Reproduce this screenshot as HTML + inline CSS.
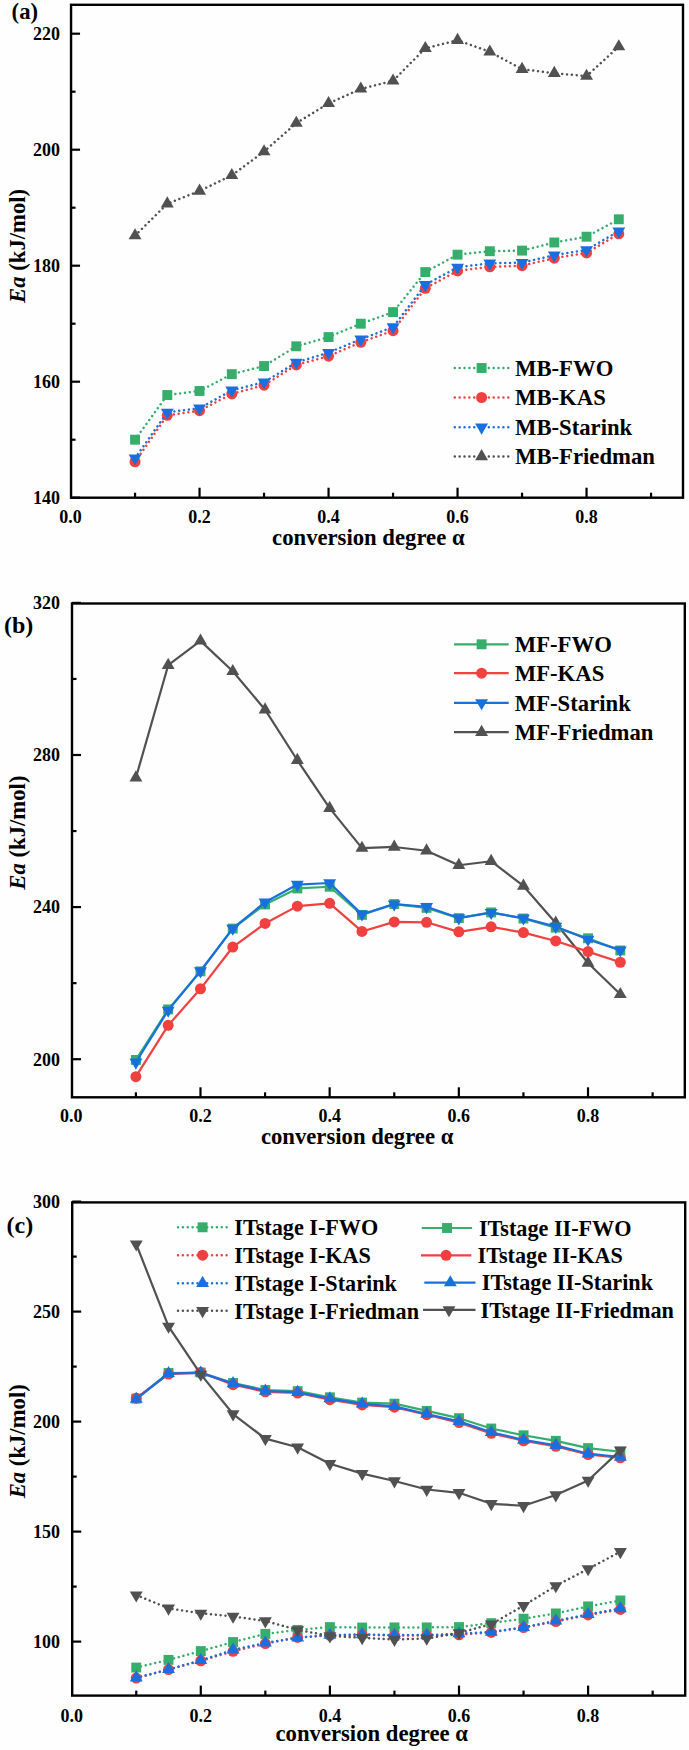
<!DOCTYPE html>
<html><head><meta charset="utf-8"><style>
html,body{margin:0;padding:0;background:#fefefe;}
svg{display:block;}
text{font-family:"Liberation Serif",serif;font-weight:bold;fill:#000;}
.t{font-size:18px;}
.b{font-size:22.7px;}
</style></head><body>
<svg width="689" height="1750" viewBox="0 0 689 1750">
<rect width="689" height="1750" fill="#fefefe"/>
<path d="M135.05,439.70 L167.30,395.04 L199.55,390.98 L231.80,374.16 L264.05,366.04 L296.30,346.32 L328.55,337.04 L360.80,323.70 L393.05,312.10 L425.30,272.08 L457.55,254.68 L489.80,251.20 L522.05,250.62 L554.30,242.50 L586.55,236.70 L618.80,219.30" fill="none" stroke="#37AD6B" stroke-width="2.5" stroke-dasharray="0.01 4.85" stroke-linecap="round"/>
<rect x="130.10" y="434.75" width="9.90" height="9.90" fill="#37AD6B"/>
<rect x="162.35" y="390.09" width="9.90" height="9.90" fill="#37AD6B"/>
<rect x="194.60" y="386.03" width="9.90" height="9.90" fill="#37AD6B"/>
<rect x="226.85" y="369.21" width="9.90" height="9.90" fill="#37AD6B"/>
<rect x="259.10" y="361.09" width="9.90" height="9.90" fill="#37AD6B"/>
<rect x="291.35" y="341.37" width="9.90" height="9.90" fill="#37AD6B"/>
<rect x="323.60" y="332.09" width="9.90" height="9.90" fill="#37AD6B"/>
<rect x="355.85" y="318.75" width="9.90" height="9.90" fill="#37AD6B"/>
<rect x="388.10" y="307.15" width="9.90" height="9.90" fill="#37AD6B"/>
<rect x="420.35" y="267.13" width="9.90" height="9.90" fill="#37AD6B"/>
<rect x="452.60" y="249.73" width="9.90" height="9.90" fill="#37AD6B"/>
<rect x="484.85" y="246.25" width="9.90" height="9.90" fill="#37AD6B"/>
<rect x="517.10" y="245.67" width="9.90" height="9.90" fill="#37AD6B"/>
<rect x="549.35" y="237.55" width="9.90" height="9.90" fill="#37AD6B"/>
<rect x="581.60" y="231.75" width="9.90" height="9.90" fill="#37AD6B"/>
<rect x="613.85" y="214.35" width="9.90" height="9.90" fill="#37AD6B"/>
<path d="M135.05,461.74 L167.30,415.34 L199.55,410.70 L231.80,393.88 L264.05,385.18 L296.30,364.88 L328.55,356.18 L360.80,342.26 L393.05,330.66 L425.30,288.32 L457.55,270.92 L489.80,266.86 L522.05,265.70 L554.30,258.16 L586.55,252.94 L618.80,233.80" fill="none" stroke="#F14040" stroke-width="2.5" stroke-dasharray="0.01 4.85" stroke-linecap="round"/>
<circle cx="135.05" cy="461.74" r="5.50" fill="#F14040"/>
<circle cx="167.30" cy="415.34" r="5.50" fill="#F14040"/>
<circle cx="199.55" cy="410.70" r="5.50" fill="#F14040"/>
<circle cx="231.80" cy="393.88" r="5.50" fill="#F14040"/>
<circle cx="264.05" cy="385.18" r="5.50" fill="#F14040"/>
<circle cx="296.30" cy="364.88" r="5.50" fill="#F14040"/>
<circle cx="328.55" cy="356.18" r="5.50" fill="#F14040"/>
<circle cx="360.80" cy="342.26" r="5.50" fill="#F14040"/>
<circle cx="393.05" cy="330.66" r="5.50" fill="#F14040"/>
<circle cx="425.30" cy="288.32" r="5.50" fill="#F14040"/>
<circle cx="457.55" cy="270.92" r="5.50" fill="#F14040"/>
<circle cx="489.80" cy="266.86" r="5.50" fill="#F14040"/>
<circle cx="522.05" cy="265.70" r="5.50" fill="#F14040"/>
<circle cx="554.30" cy="258.16" r="5.50" fill="#F14040"/>
<circle cx="586.55" cy="252.94" r="5.50" fill="#F14040"/>
<circle cx="618.80" cy="233.80" r="5.50" fill="#F14040"/>
<path d="M135.05,458.15 L167.30,412.33 L199.55,408.27 L231.80,390.29 L264.05,382.17 L296.30,362.45 L328.55,352.59 L360.80,339.25 L393.05,327.07 L425.30,284.73 L457.55,267.33 L489.80,263.27 L522.05,262.69 L554.30,255.15 L586.55,249.93 L618.80,231.08" fill="none" stroke="#1A6FDF" stroke-width="2.5" stroke-dasharray="0.01 4.85" stroke-linecap="round"/>
<polygon points="128.60,454.45 141.50,454.45 135.05,465.55" fill="#1A6FDF"/>
<polygon points="160.85,408.63 173.75,408.63 167.30,419.73" fill="#1A6FDF"/>
<polygon points="193.10,404.57 206.00,404.57 199.55,415.67" fill="#1A6FDF"/>
<polygon points="225.35,386.59 238.25,386.59 231.80,397.69" fill="#1A6FDF"/>
<polygon points="257.60,378.47 270.50,378.47 264.05,389.57" fill="#1A6FDF"/>
<polygon points="289.85,358.75 302.75,358.75 296.30,369.85" fill="#1A6FDF"/>
<polygon points="322.10,348.89 335.00,348.89 328.55,359.99" fill="#1A6FDF"/>
<polygon points="354.35,335.55 367.25,335.55 360.80,346.65" fill="#1A6FDF"/>
<polygon points="386.60,323.37 399.50,323.37 393.05,334.47" fill="#1A6FDF"/>
<polygon points="418.85,281.03 431.75,281.03 425.30,292.13" fill="#1A6FDF"/>
<polygon points="451.10,263.63 464.00,263.63 457.55,274.73" fill="#1A6FDF"/>
<polygon points="483.35,259.57 496.25,259.57 489.80,270.67" fill="#1A6FDF"/>
<polygon points="515.60,258.99 528.50,258.99 522.05,270.09" fill="#1A6FDF"/>
<polygon points="547.85,251.45 560.75,251.45 554.30,262.55" fill="#1A6FDF"/>
<polygon points="580.10,246.23 593.00,246.23 586.55,257.33" fill="#1A6FDF"/>
<polygon points="612.35,227.38 625.25,227.38 618.80,238.48" fill="#1A6FDF"/>
<path d="M135.05,235.65 L167.30,203.75 L199.55,190.99 L231.80,175.33 L264.05,151.55 L296.30,123.13 L328.55,103.41 L360.80,88.91 L393.05,80.79 L425.30,48.31 L457.55,40.19 L489.80,51.79 L522.05,69.19 L554.30,73.25 L586.55,76.15 L618.80,46.57" fill="none" stroke="#515151" stroke-width="2.5" stroke-dasharray="0.01 4.85" stroke-linecap="round"/>
<polygon points="128.60,239.35 141.50,239.35 135.05,228.25" fill="#515151"/>
<polygon points="160.85,207.45 173.75,207.45 167.30,196.35" fill="#515151"/>
<polygon points="193.10,194.69 206.00,194.69 199.55,183.59" fill="#515151"/>
<polygon points="225.35,179.03 238.25,179.03 231.80,167.93" fill="#515151"/>
<polygon points="257.60,155.25 270.50,155.25 264.05,144.15" fill="#515151"/>
<polygon points="289.85,126.83 302.75,126.83 296.30,115.73" fill="#515151"/>
<polygon points="322.10,107.11 335.00,107.11 328.55,96.01" fill="#515151"/>
<polygon points="354.35,92.61 367.25,92.61 360.80,81.51" fill="#515151"/>
<polygon points="386.60,84.49 399.50,84.49 393.05,73.39" fill="#515151"/>
<polygon points="418.85,52.01 431.75,52.01 425.30,40.91" fill="#515151"/>
<polygon points="451.10,43.89 464.00,43.89 457.55,32.79" fill="#515151"/>
<polygon points="483.35,55.49 496.25,55.49 489.80,44.39" fill="#515151"/>
<polygon points="515.60,72.89 528.50,72.89 522.05,61.79" fill="#515151"/>
<polygon points="547.85,76.95 560.75,76.95 554.30,65.85" fill="#515151"/>
<polygon points="580.10,79.85 593.00,79.85 586.55,68.75" fill="#515151"/>
<polygon points="612.35,50.27 625.25,50.27 618.80,39.17" fill="#515151"/>
<rect x="71.05" y="4.80" width="611.95" height="492.90" fill="none" stroke="#000" stroke-width="2.4"/>
<line x1="135.05" y1="497.70" x2="135.05" y2="492.70" stroke="#000" stroke-width="2.2"/>
<line x1="199.55" y1="497.70" x2="199.55" y2="487.70" stroke="#000" stroke-width="2.2"/>
<line x1="264.05" y1="497.70" x2="264.05" y2="492.70" stroke="#000" stroke-width="2.2"/>
<line x1="328.55" y1="497.70" x2="328.55" y2="487.70" stroke="#000" stroke-width="2.2"/>
<line x1="393.05" y1="497.70" x2="393.05" y2="492.70" stroke="#000" stroke-width="2.2"/>
<line x1="457.55" y1="497.70" x2="457.55" y2="487.70" stroke="#000" stroke-width="2.2"/>
<line x1="522.05" y1="497.70" x2="522.05" y2="492.70" stroke="#000" stroke-width="2.2"/>
<line x1="586.55" y1="497.70" x2="586.55" y2="487.70" stroke="#000" stroke-width="2.2"/>
<line x1="651.05" y1="497.70" x2="651.05" y2="492.70" stroke="#000" stroke-width="2.2"/>
<line x1="71.05" y1="497.70" x2="80.05" y2="497.70" stroke="#000" stroke-width="2.2"/>
<line x1="71.05" y1="381.70" x2="80.05" y2="381.70" stroke="#000" stroke-width="2.2"/>
<line x1="71.05" y1="265.70" x2="80.05" y2="265.70" stroke="#000" stroke-width="2.2"/>
<line x1="71.05" y1="149.70" x2="80.05" y2="149.70" stroke="#000" stroke-width="2.2"/>
<line x1="71.05" y1="33.70" x2="80.05" y2="33.70" stroke="#000" stroke-width="2.2"/>
<line x1="71.05" y1="439.70" x2="75.55" y2="439.70" stroke="#000" stroke-width="2.2"/>
<line x1="71.05" y1="323.70" x2="75.55" y2="323.70" stroke="#000" stroke-width="2.2"/>
<line x1="71.05" y1="207.70" x2="75.55" y2="207.70" stroke="#000" stroke-width="2.2"/>
<line x1="71.05" y1="91.70" x2="75.55" y2="91.70" stroke="#000" stroke-width="2.2"/>
<text x="70.55" y="523.20" text-anchor="middle" class="t">0.0</text>
<text x="199.55" y="523.20" text-anchor="middle" class="t">0.2</text>
<text x="328.55" y="523.20" text-anchor="middle" class="t">0.4</text>
<text x="457.55" y="523.20" text-anchor="middle" class="t">0.6</text>
<text x="586.55" y="523.20" text-anchor="middle" class="t">0.8</text>
<text x="60" y="504.00" text-anchor="end" class="t">140</text>
<text x="60" y="388.00" text-anchor="end" class="t">160</text>
<text x="60" y="272.00" text-anchor="end" class="t">180</text>
<text x="60" y="156.00" text-anchor="end" class="t">200</text>
<text x="60" y="40.00" text-anchor="end" class="t">220</text>
<path d="M135.89,777.76 L168.19,665.21 L200.48,640.87 L232.77,671.29 L265.07,709.70 L297.36,760.27 L329.66,808.18 L361.96,848.11 L394.25,846.97 L426.55,850.77 L458.84,865.22 L491.13,861.23 L523.43,885.94 L555.72,923.02 L588.02,962.95 L620.31,994.32" fill="none" stroke="#515151" stroke-width="2.2" stroke-linejoin="round"/>
<polygon points="129.44,781.46 142.34,781.46 135.89,770.36" fill="#515151"/>
<polygon points="161.74,668.91 174.63,668.91 168.19,657.81" fill="#515151"/>
<polygon points="194.03,644.57 206.93,644.57 200.48,633.47" fill="#515151"/>
<polygon points="226.32,674.99 239.22,674.99 232.77,663.89" fill="#515151"/>
<polygon points="258.62,713.40 271.52,713.40 265.07,702.30" fill="#515151"/>
<polygon points="290.91,763.97 303.81,763.97 297.36,752.87" fill="#515151"/>
<polygon points="323.21,811.88 336.11,811.88 329.66,800.78" fill="#515151"/>
<polygon points="355.51,851.81 368.41,851.81 361.96,840.71" fill="#515151"/>
<polygon points="387.80,850.67 400.70,850.67 394.25,839.57" fill="#515151"/>
<polygon points="420.10,854.47 433.00,854.47 426.55,843.37" fill="#515151"/>
<polygon points="452.39,868.92 465.29,868.92 458.84,857.82" fill="#515151"/>
<polygon points="484.69,864.93 497.58,864.93 491.13,853.83" fill="#515151"/>
<polygon points="516.98,889.64 529.88,889.64 523.43,878.54" fill="#515151"/>
<polygon points="549.27,926.72 562.17,926.72 555.72,915.62" fill="#515151"/>
<polygon points="581.57,966.65 594.47,966.65 588.02,955.55" fill="#515151"/>
<polygon points="613.86,998.02 626.76,998.02 620.31,986.92" fill="#515151"/>
<path d="M135.89,1059.96 L168.19,1009.39 L200.48,971.36 L232.77,928.58 L265.07,904.44 L297.36,888.47 L329.66,886.76 L361.96,914.90 L394.25,904.06 L426.55,907.86 L458.84,918.13 L491.13,912.42 L523.43,918.51 L555.72,927.63 L588.02,938.28 L620.31,950.45" fill="none" stroke="#37AD6B" stroke-width="2.2" stroke-linejoin="round"/>
<rect x="130.94" y="1055.01" width="9.90" height="9.90" fill="#37AD6B"/>
<rect x="163.24" y="1004.44" width="9.90" height="9.90" fill="#37AD6B"/>
<rect x="195.53" y="966.41" width="9.90" height="9.90" fill="#37AD6B"/>
<rect x="227.82" y="923.63" width="9.90" height="9.90" fill="#37AD6B"/>
<rect x="260.12" y="899.49" width="9.90" height="9.90" fill="#37AD6B"/>
<rect x="292.41" y="883.52" width="9.90" height="9.90" fill="#37AD6B"/>
<rect x="324.71" y="881.81" width="9.90" height="9.90" fill="#37AD6B"/>
<rect x="357.01" y="909.95" width="9.90" height="9.90" fill="#37AD6B"/>
<rect x="389.30" y="899.11" width="9.90" height="9.90" fill="#37AD6B"/>
<rect x="421.60" y="902.91" width="9.90" height="9.90" fill="#37AD6B"/>
<rect x="453.89" y="913.18" width="9.90" height="9.90" fill="#37AD6B"/>
<rect x="486.19" y="907.47" width="9.90" height="9.90" fill="#37AD6B"/>
<rect x="518.48" y="913.56" width="9.90" height="9.90" fill="#37AD6B"/>
<rect x="550.77" y="922.68" width="9.90" height="9.90" fill="#37AD6B"/>
<rect x="583.07" y="933.33" width="9.90" height="9.90" fill="#37AD6B"/>
<rect x="615.36" y="945.50" width="9.90" height="9.90" fill="#37AD6B"/>
<path d="M135.89,1076.69 L168.19,1025.36 L200.48,988.85 L232.77,947.03 L265.07,923.45 L297.36,906.15 L329.66,903.30 L361.96,931.44 L394.25,921.93 L426.55,922.31 L458.84,931.82 L491.13,926.87 L523.43,932.58 L555.72,940.94 L588.02,951.59 L620.31,962.24" fill="none" stroke="#F14040" stroke-width="2.2" stroke-linejoin="round"/>
<circle cx="135.89" cy="1076.69" r="5.50" fill="#F14040"/>
<circle cx="168.19" cy="1025.36" r="5.50" fill="#F14040"/>
<circle cx="200.48" cy="988.85" r="5.50" fill="#F14040"/>
<circle cx="232.77" cy="947.03" r="5.50" fill="#F14040"/>
<circle cx="265.07" cy="923.45" r="5.50" fill="#F14040"/>
<circle cx="297.36" cy="906.15" r="5.50" fill="#F14040"/>
<circle cx="329.66" cy="903.30" r="5.50" fill="#F14040"/>
<circle cx="361.96" cy="931.44" r="5.50" fill="#F14040"/>
<circle cx="394.25" cy="921.93" r="5.50" fill="#F14040"/>
<circle cx="426.55" cy="922.31" r="5.50" fill="#F14040"/>
<circle cx="458.84" cy="931.82" r="5.50" fill="#F14040"/>
<circle cx="491.13" cy="926.87" r="5.50" fill="#F14040"/>
<circle cx="523.43" cy="932.58" r="5.50" fill="#F14040"/>
<circle cx="555.72" cy="940.94" r="5.50" fill="#F14040"/>
<circle cx="588.02" cy="951.59" r="5.50" fill="#F14040"/>
<circle cx="620.31" cy="962.24" r="5.50" fill="#F14040"/>
<path d="M135.89,1062.29 L168.19,1010.39 L200.48,971.03 L232.77,928.45 L265.07,902.21 L297.36,884.53 L329.66,883.01 L361.96,914.19 L394.25,904.11 L426.55,906.77 L458.84,917.99 L491.13,912.66 L523.43,918.18 L555.72,926.54 L588.02,939.47 L620.31,950.12" fill="none" stroke="#1A6FDF" stroke-width="2.2" stroke-linejoin="round"/>
<polygon points="129.44,1058.59 142.34,1058.59 135.89,1069.69" fill="#1A6FDF"/>
<polygon points="161.74,1006.69 174.63,1006.69 168.19,1017.79" fill="#1A6FDF"/>
<polygon points="194.03,967.33 206.93,967.33 200.48,978.43" fill="#1A6FDF"/>
<polygon points="226.32,924.75 239.22,924.75 232.77,935.85" fill="#1A6FDF"/>
<polygon points="258.62,898.51 271.52,898.51 265.07,909.61" fill="#1A6FDF"/>
<polygon points="290.91,880.83 303.81,880.83 297.36,891.93" fill="#1A6FDF"/>
<polygon points="323.21,879.31 336.11,879.31 329.66,890.41" fill="#1A6FDF"/>
<polygon points="355.51,910.49 368.41,910.49 361.96,921.59" fill="#1A6FDF"/>
<polygon points="387.80,900.41 400.70,900.41 394.25,911.51" fill="#1A6FDF"/>
<polygon points="420.10,903.07 433.00,903.07 426.55,914.17" fill="#1A6FDF"/>
<polygon points="452.39,914.29 465.29,914.29 458.84,925.39" fill="#1A6FDF"/>
<polygon points="484.69,908.96 497.58,908.96 491.13,920.06" fill="#1A6FDF"/>
<polygon points="516.98,914.48 529.88,914.48 523.43,925.58" fill="#1A6FDF"/>
<polygon points="549.27,922.84 562.17,922.84 555.72,933.94" fill="#1A6FDF"/>
<polygon points="581.57,935.77 594.47,935.77 588.02,946.87" fill="#1A6FDF"/>
<polygon points="613.86,946.42 626.76,946.42 620.31,957.52" fill="#1A6FDF"/>
<rect x="72.00" y="603.50" width="612.80" height="493.80" fill="none" stroke="#000" stroke-width="2.4"/>
<line x1="135.89" y1="1097.30" x2="135.89" y2="1092.30" stroke="#000" stroke-width="2.2"/>
<line x1="200.48" y1="1097.30" x2="200.48" y2="1087.30" stroke="#000" stroke-width="2.2"/>
<line x1="265.07" y1="1097.30" x2="265.07" y2="1092.30" stroke="#000" stroke-width="2.2"/>
<line x1="329.66" y1="1097.30" x2="329.66" y2="1087.30" stroke="#000" stroke-width="2.2"/>
<line x1="394.25" y1="1097.30" x2="394.25" y2="1092.30" stroke="#000" stroke-width="2.2"/>
<line x1="458.84" y1="1097.30" x2="458.84" y2="1087.30" stroke="#000" stroke-width="2.2"/>
<line x1="523.43" y1="1097.30" x2="523.43" y2="1092.30" stroke="#000" stroke-width="2.2"/>
<line x1="588.02" y1="1097.30" x2="588.02" y2="1087.30" stroke="#000" stroke-width="2.2"/>
<line x1="652.61" y1="1097.30" x2="652.61" y2="1092.30" stroke="#000" stroke-width="2.2"/>
<line x1="72.00" y1="1059.20" x2="81.00" y2="1059.20" stroke="#000" stroke-width="2.2"/>
<line x1="72.00" y1="907.10" x2="81.00" y2="907.10" stroke="#000" stroke-width="2.2"/>
<line x1="72.00" y1="755.00" x2="81.00" y2="755.00" stroke="#000" stroke-width="2.2"/>
<line x1="72.00" y1="602.90" x2="81.00" y2="602.90" stroke="#000" stroke-width="2.2"/>
<line x1="72.00" y1="983.15" x2="76.50" y2="983.15" stroke="#000" stroke-width="2.2"/>
<line x1="72.00" y1="831.05" x2="76.50" y2="831.05" stroke="#000" stroke-width="2.2"/>
<line x1="72.00" y1="678.95" x2="76.50" y2="678.95" stroke="#000" stroke-width="2.2"/>
<text x="71.30" y="1121.90" text-anchor="middle" class="t">0.0</text>
<text x="200.48" y="1121.90" text-anchor="middle" class="t">0.2</text>
<text x="329.66" y="1121.90" text-anchor="middle" class="t">0.4</text>
<text x="458.84" y="1121.90" text-anchor="middle" class="t">0.6</text>
<text x="588.02" y="1121.90" text-anchor="middle" class="t">0.8</text>
<text x="60" y="1065.50" text-anchor="end" class="t">200</text>
<text x="60" y="913.40" text-anchor="end" class="t">240</text>
<text x="60" y="761.30" text-anchor="end" class="t">280</text>
<text x="60" y="609.20" text-anchor="end" class="t">320</text>
<path d="M136.25,1667.56 L168.53,1659.86 L200.80,1651.06 L233.07,1642.04 L265.35,1633.90 L297.62,1629.94 L329.90,1627.08 L362.18,1627.52 L394.45,1627.41 L426.73,1627.41 L459.00,1627.08 L491.27,1623.12 L523.55,1618.72 L555.83,1613.44 L588.10,1606.40 L620.38,1600.46" fill="none" stroke="#37AD6B" stroke-width="2.5" stroke-dasharray="0.01 4.85" stroke-linecap="round"/>
<rect x="131.30" y="1662.61" width="9.90" height="9.90" fill="#37AD6B"/>
<rect x="163.58" y="1654.91" width="9.90" height="9.90" fill="#37AD6B"/>
<rect x="195.85" y="1646.11" width="9.90" height="9.90" fill="#37AD6B"/>
<rect x="228.12" y="1637.09" width="9.90" height="9.90" fill="#37AD6B"/>
<rect x="260.40" y="1628.95" width="9.90" height="9.90" fill="#37AD6B"/>
<rect x="292.68" y="1624.99" width="9.90" height="9.90" fill="#37AD6B"/>
<rect x="324.95" y="1622.13" width="9.90" height="9.90" fill="#37AD6B"/>
<rect x="357.23" y="1622.57" width="9.90" height="9.90" fill="#37AD6B"/>
<rect x="389.50" y="1622.46" width="9.90" height="9.90" fill="#37AD6B"/>
<rect x="421.78" y="1622.46" width="9.90" height="9.90" fill="#37AD6B"/>
<rect x="454.05" y="1622.13" width="9.90" height="9.90" fill="#37AD6B"/>
<rect x="486.32" y="1618.17" width="9.90" height="9.90" fill="#37AD6B"/>
<rect x="518.60" y="1613.77" width="9.90" height="9.90" fill="#37AD6B"/>
<rect x="550.88" y="1608.49" width="9.90" height="9.90" fill="#37AD6B"/>
<rect x="583.15" y="1601.45" width="9.90" height="9.90" fill="#37AD6B"/>
<rect x="615.42" y="1595.51" width="9.90" height="9.90" fill="#37AD6B"/>
<path d="M136.25,1678.12 L168.53,1669.54 L200.80,1660.74 L233.07,1651.28 L265.35,1643.58 L297.62,1637.42 L329.90,1635.44 L362.18,1634.78 L394.45,1635.44 L426.73,1635.44 L459.00,1634.78 L491.27,1632.45 L523.55,1627.52 L555.83,1621.58 L588.10,1614.98 L620.38,1609.48" fill="none" stroke="#F14040" stroke-width="2.5" stroke-dasharray="0.01 4.85" stroke-linecap="round"/>
<circle cx="136.25" cy="1678.12" r="5.50" fill="#F14040"/>
<circle cx="168.53" cy="1669.54" r="5.50" fill="#F14040"/>
<circle cx="200.80" cy="1660.74" r="5.50" fill="#F14040"/>
<circle cx="233.07" cy="1651.28" r="5.50" fill="#F14040"/>
<circle cx="265.35" cy="1643.58" r="5.50" fill="#F14040"/>
<circle cx="297.62" cy="1637.42" r="5.50" fill="#F14040"/>
<circle cx="329.90" cy="1635.44" r="5.50" fill="#F14040"/>
<circle cx="362.18" cy="1634.78" r="5.50" fill="#F14040"/>
<circle cx="394.45" cy="1635.44" r="5.50" fill="#F14040"/>
<circle cx="426.73" cy="1635.44" r="5.50" fill="#F14040"/>
<circle cx="459.00" cy="1634.78" r="5.50" fill="#F14040"/>
<circle cx="491.27" cy="1632.45" r="5.50" fill="#F14040"/>
<circle cx="523.55" cy="1627.52" r="5.50" fill="#F14040"/>
<circle cx="555.83" cy="1621.58" r="5.50" fill="#F14040"/>
<circle cx="588.10" cy="1614.98" r="5.50" fill="#F14040"/>
<circle cx="620.38" cy="1609.48" r="5.50" fill="#F14040"/>
<path d="M136.25,1677.77 L168.53,1669.41 L200.80,1660.39 L233.07,1649.83 L265.35,1642.90 L297.62,1637.73 L329.90,1635.09 L362.18,1634.43 L394.45,1635.09 L426.73,1635.09 L459.00,1633.66 L491.27,1632.01 L523.55,1627.39 L555.83,1620.79 L588.10,1614.41 L620.38,1608.47" fill="none" stroke="#1A6FDF" stroke-width="2.5" stroke-dasharray="0.01 4.85" stroke-linecap="round"/>
<polygon points="129.80,1681.47 142.70,1681.47 136.25,1670.37" fill="#1A6FDF"/>
<polygon points="162.08,1673.11 174.98,1673.11 168.53,1662.01" fill="#1A6FDF"/>
<polygon points="194.35,1664.09 207.25,1664.09 200.80,1652.99" fill="#1A6FDF"/>
<polygon points="226.62,1653.53 239.52,1653.53 233.07,1642.43" fill="#1A6FDF"/>
<polygon points="258.90,1646.60 271.80,1646.60 265.35,1635.50" fill="#1A6FDF"/>
<polygon points="291.18,1641.43 304.07,1641.43 297.62,1630.33" fill="#1A6FDF"/>
<polygon points="323.45,1638.79 336.35,1638.79 329.90,1627.69" fill="#1A6FDF"/>
<polygon points="355.73,1638.13 368.62,1638.13 362.18,1627.03" fill="#1A6FDF"/>
<polygon points="388.00,1638.79 400.90,1638.79 394.45,1627.69" fill="#1A6FDF"/>
<polygon points="420.28,1638.79 433.18,1638.79 426.73,1627.69" fill="#1A6FDF"/>
<polygon points="452.55,1637.36 465.45,1637.36 459.00,1626.26" fill="#1A6FDF"/>
<polygon points="484.82,1635.71 497.72,1635.71 491.27,1624.61" fill="#1A6FDF"/>
<polygon points="517.10,1631.09 530.00,1631.09 523.55,1619.99" fill="#1A6FDF"/>
<polygon points="549.38,1624.49 562.28,1624.49 555.83,1613.39" fill="#1A6FDF"/>
<polygon points="581.65,1618.11 594.55,1618.11 588.10,1607.01" fill="#1A6FDF"/>
<polygon points="613.92,1612.17 626.83,1612.17 620.38,1601.07" fill="#1A6FDF"/>
<path d="M136.25,1595.09 L168.53,1608.29 L200.80,1613.35 L233.07,1616.43 L265.35,1621.05 L297.62,1629.85 L329.90,1636.01 L362.18,1637.77 L394.45,1639.53 L426.73,1638.43 L459.00,1632.93 L491.27,1624.13 L523.55,1605.65 L555.83,1585.85 L588.10,1568.91 L620.38,1551.75" fill="none" stroke="#515151" stroke-width="2.5" stroke-dasharray="0.01 4.85" stroke-linecap="round"/>
<polygon points="129.80,1591.39 142.70,1591.39 136.25,1602.49" fill="#515151"/>
<polygon points="162.08,1604.59 174.98,1604.59 168.53,1615.69" fill="#515151"/>
<polygon points="194.35,1609.65 207.25,1609.65 200.80,1620.75" fill="#515151"/>
<polygon points="226.62,1612.73 239.52,1612.73 233.07,1623.83" fill="#515151"/>
<polygon points="258.90,1617.35 271.80,1617.35 265.35,1628.45" fill="#515151"/>
<polygon points="291.18,1626.15 304.07,1626.15 297.62,1637.25" fill="#515151"/>
<polygon points="323.45,1632.31 336.35,1632.31 329.90,1643.41" fill="#515151"/>
<polygon points="355.73,1634.07 368.62,1634.07 362.18,1645.17" fill="#515151"/>
<polygon points="388.00,1635.83 400.90,1635.83 394.45,1646.93" fill="#515151"/>
<polygon points="420.28,1634.73 433.18,1634.73 426.73,1645.83" fill="#515151"/>
<polygon points="452.55,1629.23 465.45,1629.23 459.00,1640.33" fill="#515151"/>
<polygon points="484.82,1620.43 497.72,1620.43 491.27,1631.53" fill="#515151"/>
<polygon points="517.10,1601.95 530.00,1601.95 523.55,1613.05" fill="#515151"/>
<polygon points="549.38,1582.15 562.28,1582.15 555.83,1593.25" fill="#515151"/>
<polygon points="581.65,1565.21 594.55,1565.21 588.10,1576.31" fill="#515151"/>
<polygon points="613.92,1548.05 626.83,1548.05 620.38,1559.15" fill="#515151"/>
<path d="M136.25,1398.61 L168.53,1372.98 L200.80,1372.54 L233.07,1382.99 L265.35,1390.03 L297.62,1391.13 L329.90,1397.29 L362.18,1402.57 L394.45,1403.67 L426.73,1410.93 L459.00,1418.19 L491.27,1428.53 L523.55,1435.24 L555.83,1440.85 L588.10,1448.11 L620.38,1451.74" fill="none" stroke="#37AD6B" stroke-width="2.2" stroke-linejoin="round"/>
<rect x="131.30" y="1393.66" width="9.90" height="9.90" fill="#37AD6B"/>
<rect x="163.58" y="1368.03" width="9.90" height="9.90" fill="#37AD6B"/>
<rect x="195.85" y="1367.59" width="9.90" height="9.90" fill="#37AD6B"/>
<rect x="228.12" y="1378.04" width="9.90" height="9.90" fill="#37AD6B"/>
<rect x="260.40" y="1385.08" width="9.90" height="9.90" fill="#37AD6B"/>
<rect x="292.68" y="1386.18" width="9.90" height="9.90" fill="#37AD6B"/>
<rect x="324.95" y="1392.34" width="9.90" height="9.90" fill="#37AD6B"/>
<rect x="357.23" y="1397.62" width="9.90" height="9.90" fill="#37AD6B"/>
<rect x="389.50" y="1398.72" width="9.90" height="9.90" fill="#37AD6B"/>
<rect x="421.78" y="1405.98" width="9.90" height="9.90" fill="#37AD6B"/>
<rect x="454.05" y="1413.24" width="9.90" height="9.90" fill="#37AD6B"/>
<rect x="486.32" y="1423.58" width="9.90" height="9.90" fill="#37AD6B"/>
<rect x="518.60" y="1430.29" width="9.90" height="9.90" fill="#37AD6B"/>
<rect x="550.88" y="1435.90" width="9.90" height="9.90" fill="#37AD6B"/>
<rect x="583.15" y="1443.16" width="9.90" height="9.90" fill="#37AD6B"/>
<rect x="615.42" y="1446.79" width="9.90" height="9.90" fill="#37AD6B"/>
<path d="M136.25,1398.17 L168.53,1374.08 L200.80,1372.54 L233.07,1384.64 L265.35,1391.79 L297.62,1393.00 L329.90,1399.71 L362.18,1404.88 L394.45,1407.19 L426.73,1414.67 L459.00,1422.59 L491.27,1433.37 L523.55,1440.74 L555.83,1446.35 L588.10,1454.49 L620.38,1457.79" fill="none" stroke="#F14040" stroke-width="2.2" stroke-linejoin="round"/>
<circle cx="136.25" cy="1398.17" r="5.50" fill="#F14040"/>
<circle cx="168.53" cy="1374.08" r="5.50" fill="#F14040"/>
<circle cx="200.80" cy="1372.54" r="5.50" fill="#F14040"/>
<circle cx="233.07" cy="1384.64" r="5.50" fill="#F14040"/>
<circle cx="265.35" cy="1391.79" r="5.50" fill="#F14040"/>
<circle cx="297.62" cy="1393.00" r="5.50" fill="#F14040"/>
<circle cx="329.90" cy="1399.71" r="5.50" fill="#F14040"/>
<circle cx="362.18" cy="1404.88" r="5.50" fill="#F14040"/>
<circle cx="394.45" cy="1407.19" r="5.50" fill="#F14040"/>
<circle cx="426.73" cy="1414.67" r="5.50" fill="#F14040"/>
<circle cx="459.00" cy="1422.59" r="5.50" fill="#F14040"/>
<circle cx="491.27" cy="1433.37" r="5.50" fill="#F14040"/>
<circle cx="523.55" cy="1440.74" r="5.50" fill="#F14040"/>
<circle cx="555.83" cy="1446.35" r="5.50" fill="#F14040"/>
<circle cx="588.10" cy="1454.49" r="5.50" fill="#F14040"/>
<circle cx="620.38" cy="1457.79" r="5.50" fill="#F14040"/>
<path d="M136.25,1399.03 L168.53,1373.40 L200.80,1372.85 L233.07,1383.52 L265.35,1391.00 L297.62,1392.21 L329.90,1398.59 L362.18,1403.87 L394.45,1406.40 L426.73,1413.99 L459.00,1421.36 L491.27,1432.25 L523.55,1439.95 L555.83,1445.23 L588.10,1453.70 L620.38,1457.00" fill="none" stroke="#1A6FDF" stroke-width="2.2" stroke-linejoin="round"/>
<polygon points="129.80,1402.73 142.70,1402.73 136.25,1391.63" fill="#1A6FDF"/>
<polygon points="162.08,1377.10 174.98,1377.10 168.53,1366.00" fill="#1A6FDF"/>
<polygon points="194.35,1376.55 207.25,1376.55 200.80,1365.45" fill="#1A6FDF"/>
<polygon points="226.62,1387.22 239.52,1387.22 233.07,1376.12" fill="#1A6FDF"/>
<polygon points="258.90,1394.70 271.80,1394.70 265.35,1383.60" fill="#1A6FDF"/>
<polygon points="291.18,1395.91 304.07,1395.91 297.62,1384.81" fill="#1A6FDF"/>
<polygon points="323.45,1402.29 336.35,1402.29 329.90,1391.19" fill="#1A6FDF"/>
<polygon points="355.73,1407.57 368.62,1407.57 362.18,1396.47" fill="#1A6FDF"/>
<polygon points="388.00,1410.10 400.90,1410.10 394.45,1399.00" fill="#1A6FDF"/>
<polygon points="420.28,1417.69 433.18,1417.69 426.73,1406.59" fill="#1A6FDF"/>
<polygon points="452.55,1425.06 465.45,1425.06 459.00,1413.96" fill="#1A6FDF"/>
<polygon points="484.82,1435.95 497.72,1435.95 491.27,1424.85" fill="#1A6FDF"/>
<polygon points="517.10,1443.65 530.00,1443.65 523.55,1432.55" fill="#1A6FDF"/>
<polygon points="549.38,1448.93 562.28,1448.93 555.83,1437.83" fill="#1A6FDF"/>
<polygon points="581.65,1457.40 594.55,1457.40 588.10,1446.30" fill="#1A6FDF"/>
<polygon points="613.92,1460.70 626.83,1460.70 620.38,1449.60" fill="#1A6FDF"/>
<path d="M136.25,1244.19 L168.53,1326.36 L200.80,1374.43 L233.07,1414.03 L265.35,1438.67 L297.62,1447.25 L329.90,1463.75 L362.18,1473.65 L394.45,1481.02 L426.73,1489.49 L459.00,1492.79 L491.27,1503.79 L523.55,1505.77 L555.83,1494.99 L588.10,1480.47 L620.38,1450.11" fill="none" stroke="#515151" stroke-width="2.2" stroke-linejoin="round"/>
<polygon points="129.80,1240.49 142.70,1240.49 136.25,1251.59" fill="#515151"/>
<polygon points="162.08,1322.66 174.98,1322.66 168.53,1333.76" fill="#515151"/>
<polygon points="194.35,1370.73 207.25,1370.73 200.80,1381.83" fill="#515151"/>
<polygon points="226.62,1410.33 239.52,1410.33 233.07,1421.43" fill="#515151"/>
<polygon points="258.90,1434.97 271.80,1434.97 265.35,1446.07" fill="#515151"/>
<polygon points="291.18,1443.55 304.07,1443.55 297.62,1454.65" fill="#515151"/>
<polygon points="323.45,1460.05 336.35,1460.05 329.90,1471.15" fill="#515151"/>
<polygon points="355.73,1469.95 368.62,1469.95 362.18,1481.05" fill="#515151"/>
<polygon points="388.00,1477.32 400.90,1477.32 394.45,1488.42" fill="#515151"/>
<polygon points="420.28,1485.79 433.18,1485.79 426.73,1496.89" fill="#515151"/>
<polygon points="452.55,1489.09 465.45,1489.09 459.00,1500.19" fill="#515151"/>
<polygon points="484.82,1500.09 497.72,1500.09 491.27,1511.19" fill="#515151"/>
<polygon points="517.10,1502.07 530.00,1502.07 523.55,1513.17" fill="#515151"/>
<polygon points="549.38,1491.29 562.28,1491.29 555.83,1502.39" fill="#515151"/>
<polygon points="581.65,1476.77 594.55,1476.77 588.10,1487.87" fill="#515151"/>
<polygon points="613.92,1446.41 626.83,1446.41 620.38,1457.51" fill="#515151"/>
<rect x="72.20" y="1202.40" width="613.00" height="493.20" fill="none" stroke="#000" stroke-width="2.4"/>
<line x1="136.25" y1="1695.60" x2="136.25" y2="1690.60" stroke="#000" stroke-width="2.2"/>
<line x1="200.80" y1="1695.60" x2="200.80" y2="1685.60" stroke="#000" stroke-width="2.2"/>
<line x1="265.35" y1="1695.60" x2="265.35" y2="1690.60" stroke="#000" stroke-width="2.2"/>
<line x1="329.90" y1="1695.60" x2="329.90" y2="1685.60" stroke="#000" stroke-width="2.2"/>
<line x1="394.45" y1="1695.60" x2="394.45" y2="1690.60" stroke="#000" stroke-width="2.2"/>
<line x1="459.00" y1="1695.60" x2="459.00" y2="1685.60" stroke="#000" stroke-width="2.2"/>
<line x1="523.55" y1="1695.60" x2="523.55" y2="1690.60" stroke="#000" stroke-width="2.2"/>
<line x1="588.10" y1="1695.60" x2="588.10" y2="1685.60" stroke="#000" stroke-width="2.2"/>
<line x1="652.65" y1="1695.60" x2="652.65" y2="1690.60" stroke="#000" stroke-width="2.2"/>
<line x1="72.20" y1="1641.60" x2="81.20" y2="1641.60" stroke="#000" stroke-width="2.2"/>
<line x1="72.20" y1="1531.60" x2="81.20" y2="1531.60" stroke="#000" stroke-width="2.2"/>
<line x1="72.20" y1="1421.60" x2="81.20" y2="1421.60" stroke="#000" stroke-width="2.2"/>
<line x1="72.20" y1="1311.60" x2="81.20" y2="1311.60" stroke="#000" stroke-width="2.2"/>
<line x1="72.20" y1="1201.60" x2="81.20" y2="1201.60" stroke="#000" stroke-width="2.2"/>
<line x1="72.20" y1="1586.60" x2="76.70" y2="1586.60" stroke="#000" stroke-width="2.2"/>
<line x1="72.20" y1="1476.60" x2="76.70" y2="1476.60" stroke="#000" stroke-width="2.2"/>
<line x1="72.20" y1="1366.60" x2="76.70" y2="1366.60" stroke="#000" stroke-width="2.2"/>
<line x1="72.20" y1="1256.60" x2="76.70" y2="1256.60" stroke="#000" stroke-width="2.2"/>
<text x="71.70" y="1721.60" text-anchor="middle" class="t">0.0</text>
<text x="200.80" y="1721.60" text-anchor="middle" class="t">0.2</text>
<text x="329.90" y="1721.60" text-anchor="middle" class="t">0.4</text>
<text x="459.00" y="1721.60" text-anchor="middle" class="t">0.6</text>
<text x="588.10" y="1721.60" text-anchor="middle" class="t">0.8</text>
<text x="60" y="1647.90" text-anchor="end" class="t">100</text>
<text x="60" y="1537.90" text-anchor="end" class="t">150</text>
<text x="60" y="1427.90" text-anchor="end" class="t">200</text>
<text x="60" y="1317.90" text-anchor="end" class="t">250</text>
<text x="60" y="1207.90" text-anchor="end" class="t">300</text>
<text x="272.1" y="544.7" class="b">conversion degree α</text>
<text x="260.9" y="1143.5" class="b">conversion degree α</text>
<text x="275.5" y="1740.5" class="b">conversion degree α</text>
<text transform="translate(25.2,245.9) rotate(-90)" text-anchor="middle" class="b"><tspan font-style="italic">Ea</tspan> (kJ/mol)</text>
<text transform="translate(25.2,832.6) rotate(-90)" text-anchor="middle" class="b"><tspan font-style="italic">Ea</tspan> (kJ/mol)</text>
<text transform="translate(25.2,1441.3) rotate(-90)" text-anchor="middle" class="b"><tspan font-style="italic">Ea</tspan> (kJ/mol)</text>
<text x="11.6" y="19" class="b">(a)</text>
<text x="4.0" y="633" class="b" style="font-size:24px">(b)</text>
<text x="6.5" y="1232.5" class="b" style="font-size:24px">(c)</text>
<line x1="454.8" y1="368.0" x2="508.26" y2="368.0" stroke="#37AD6B" stroke-width="2.5" stroke-dasharray="0.01 4.85" stroke-linecap="round"/><rect x="476.65" y="363.05" width="9.90" height="9.90" fill="#37AD6B"/><text x="515.0" y="375.8" class="b" style="font-size:22.7px">MB-FWO</text>
<line x1="454.8" y1="397.5" x2="508.26" y2="397.5" stroke="#F14040" stroke-width="2.5" stroke-dasharray="0.01 4.85" stroke-linecap="round"/><circle cx="481.60" cy="397.50" r="5.50" fill="#F14040"/><text x="515.0" y="405.3" class="b" style="font-size:22.7px">MB-KAS</text>
<line x1="454.8" y1="427.3" x2="508.26" y2="427.3" stroke="#1A6FDF" stroke-width="2.5" stroke-dasharray="0.01 4.85" stroke-linecap="round"/><polygon points="475.15,423.60 488.05,423.60 481.60,434.70" fill="#1A6FDF"/><text x="515.0" y="435.1" class="b" style="font-size:22.7px">MB-Starink</text>
<line x1="454.8" y1="456.5" x2="508.26" y2="456.5" stroke="#515151" stroke-width="2.5" stroke-dasharray="0.01 4.85" stroke-linecap="round"/><polygon points="475.15,460.20 488.05,460.20 481.60,449.10" fill="#515151"/><text x="515.0" y="464.3" class="b" style="font-size:22.7px">MB-Friedman</text>
<line x1="454" y1="644.3" x2="508.7" y2="644.3" stroke="#37AD6B" stroke-width="2.2"/><rect x="476.65" y="639.35" width="9.90" height="9.90" fill="#37AD6B"/><text x="514.8" y="652.1" class="b" style="font-size:22.7px">MF-FWO</text>
<line x1="454" y1="673.2" x2="508.7" y2="673.2" stroke="#F14040" stroke-width="2.2"/><circle cx="481.60" cy="673.20" r="5.50" fill="#F14040"/><text x="514.8" y="681.0" class="b" style="font-size:22.7px">MF-KAS</text>
<line x1="454" y1="702.9" x2="508.7" y2="702.9" stroke="#1A6FDF" stroke-width="2.2"/><polygon points="475.15,699.20 488.05,699.20 481.60,710.30" fill="#1A6FDF"/><text x="514.8" y="710.7" class="b" style="font-size:22.7px">MF-Starink</text>
<line x1="454" y1="732.2" x2="508.7" y2="732.2" stroke="#515151" stroke-width="2.2"/><polygon points="475.15,735.90 488.05,735.90 481.60,724.80" fill="#515151"/><text x="514.8" y="740.0" class="b" style="font-size:22.7px">MF-Friedman</text>
<line x1="178.0" y1="1227.3" x2="226.6" y2="1227.3" stroke="#37AD6B" stroke-width="2.5" stroke-dasharray="0.01 4.85" stroke-linecap="round"/><rect x="197.65" y="1222.35" width="9.90" height="9.90" fill="#37AD6B"/><text x="234.3" y="1235.1" class="b" style="font-size:22.2px">ITstage I-FWO</text>
<line x1="178.0" y1="1255.2" x2="226.6" y2="1255.2" stroke="#F14040" stroke-width="2.5" stroke-dasharray="0.01 4.85" stroke-linecap="round"/><circle cx="202.60" cy="1255.20" r="5.50" fill="#F14040"/><text x="234.3" y="1263.0" class="b" style="font-size:22.2px">ITstage I-KAS</text>
<line x1="178.0" y1="1283.2" x2="226.6" y2="1283.2" stroke="#1A6FDF" stroke-width="2.5" stroke-dasharray="0.01 4.85" stroke-linecap="round"/><polygon points="196.15,1286.90 209.05,1286.90 202.60,1275.80" fill="#1A6FDF"/><text x="234.3" y="1291.0" class="b" style="font-size:22.2px">ITstage I-Starink</text>
<line x1="178.0" y1="1310.8" x2="226.6" y2="1310.8" stroke="#515151" stroke-width="2.5" stroke-dasharray="0.01 4.85" stroke-linecap="round"/><polygon points="196.15,1307.10 209.05,1307.10 202.60,1318.20" fill="#515151"/><text x="234.3" y="1318.6" class="b" style="font-size:22.2px">ITstage I-Friedman</text>
<line x1="421.8" y1="1228.0" x2="472.1" y2="1228.0" stroke="#37AD6B" stroke-width="2.2"/><rect x="442.05" y="1223.05" width="9.90" height="9.90" fill="#37AD6B"/><text x="478.9" y="1235.8" class="b" style="font-size:22.2px">ITstage II-FWO</text>
<line x1="421.0" y1="1255.3" x2="471.3" y2="1255.3" stroke="#F14040" stroke-width="2.2"/><circle cx="446.10" cy="1255.30" r="5.50" fill="#F14040"/><text x="477.6" y="1263.1" class="b" style="font-size:22.2px">ITstage II-KAS</text>
<line x1="424.3" y1="1282.6" x2="475.5" y2="1282.6" stroke="#1A6FDF" stroke-width="2.2"/><polygon points="443.85,1286.30 456.75,1286.30 450.30,1275.20" fill="#1A6FDF"/><text x="481.8" y="1290.4" class="b" style="font-size:22.2px">ITstage II-Starink</text>
<line x1="423.0" y1="1309.9" x2="475.5" y2="1309.9" stroke="#515151" stroke-width="2.2"/><polygon points="442.55,1306.20 455.45,1306.20 449.00,1317.30" fill="#515151"/><text x="480.5" y="1317.7" class="b" style="font-size:22.2px">ITstage II-Friedman</text>
</svg>
</body></html>
